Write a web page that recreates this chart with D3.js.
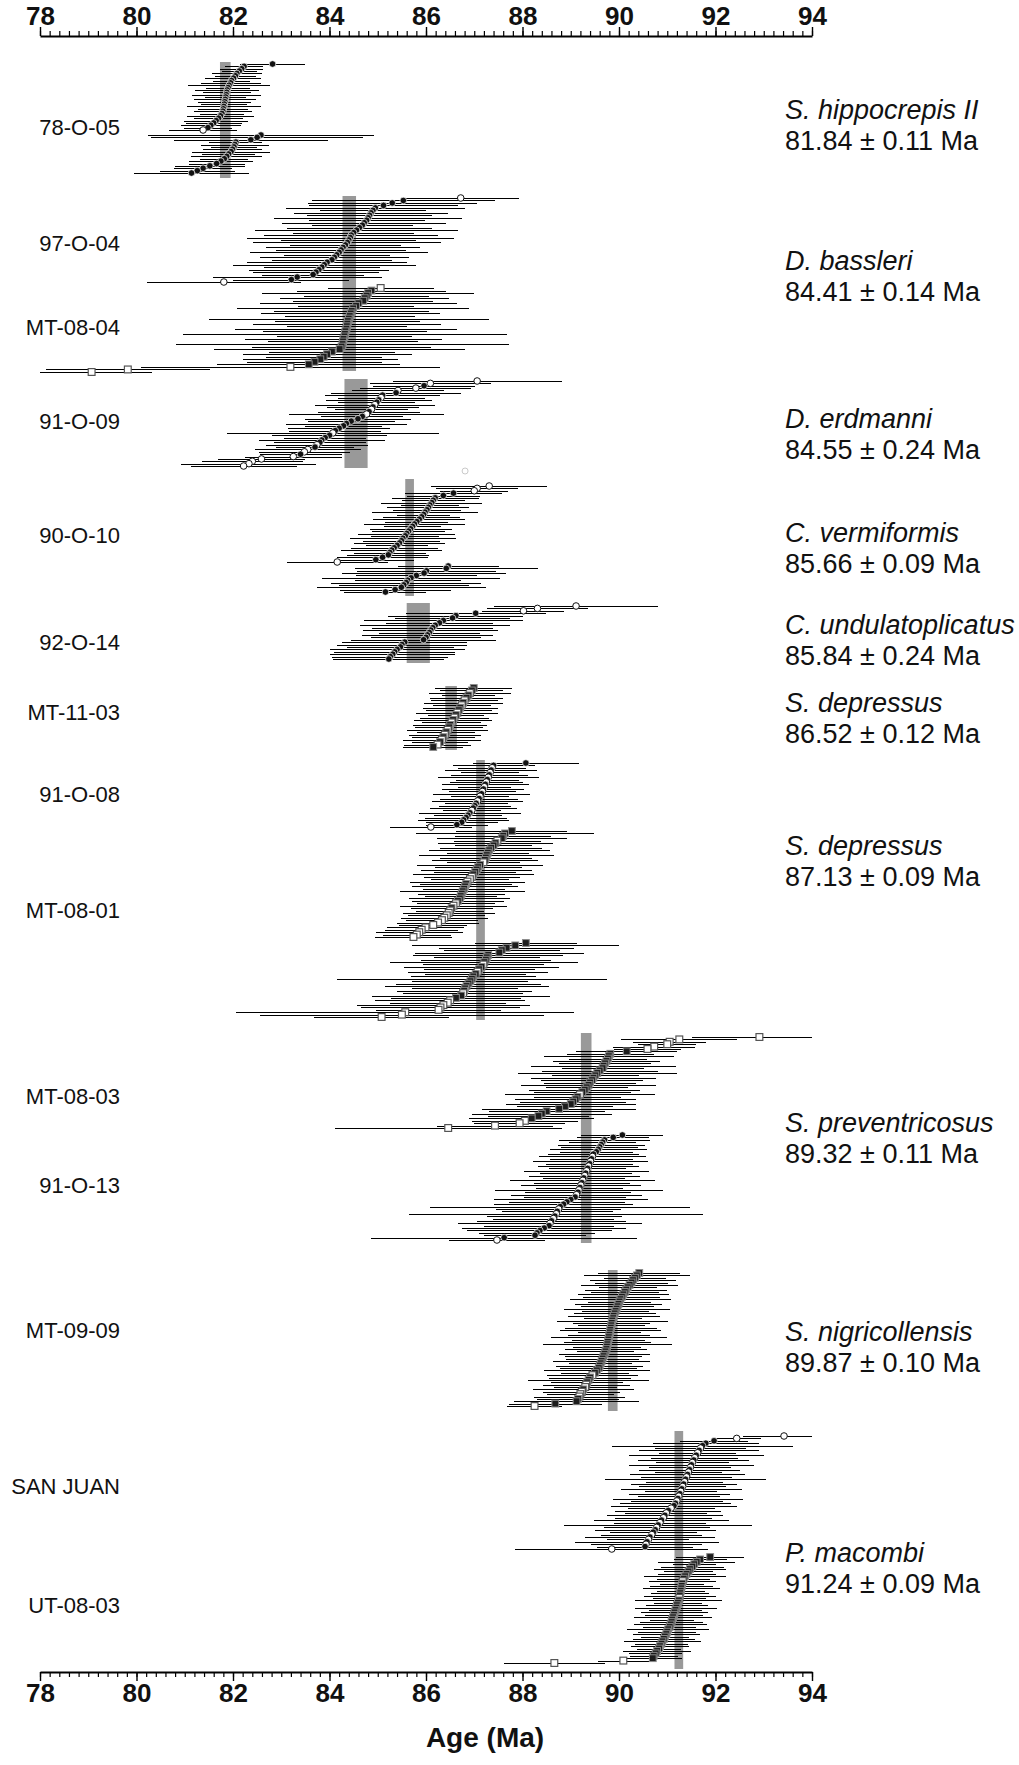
<!DOCTYPE html>
<html>
<head>
<meta charset="utf-8">
<script src="https://cdn.jsdelivr.net/npm/d3@7"></script>
<style>
  body { margin: 0; background: #fff; }
  svg { display: block; }
  text { font-family: "Liberation Sans", Arial, Helvetica, sans-serif; fill: #111; }
</style>
</head>
<body>
<svg id="chart"></svg>
<script>

// ---- data: one list per analysed run, rows top to bottom: [age Ma, 2s error Ma, symbol]
// symbol: c = filled circle, o = open circle, s = filled square, q = open square
var run_78O05a = [[82.82,.68,'c'],[82.23,.40,'c'],[82.18,.45,'c'],[82.13,.36,'c'],[82.08,.52,'c'],[82.05,.42,'c'],[82.01,.58,'c'],[81.97,.38,'c'],[81.95,.62,'c'],[81.92,.85,'c'],[81.90,.45,'c'],[81.88,.66,'c'],[81.87,.50,'c'],[81.86,.72,'c'],[81.85,.42,'c'],[81.84,.64,'c'],[81.83,.55,'c'],[81.82,.48,'c'],[81.81,.76,'c'],[81.80,.52,'c'],[81.79,.60,'c'],[81.77,.45,'c'],[81.74,.70,'c'],[81.70,.50,'c'],[81.65,.66,'c'],[81.60,.58,'c'],[81.54,.62,'c'],[81.48,.50,'c'],[81.38,.70,'o']];
var run_78O05b = [[82.58,2.35,'c'],[82.50,2.20,'c'],[82.37,1.60,'c'],[82.06,.55,'c'],[82.04,.70,'c'],[82.02,.48,'c'],[81.99,.62,'c'],[81.96,.80,'c'],[81.91,.55,'c'],[81.87,.74,'c'],[81.82,.50,'c'],[81.75,.66,'c'],[81.66,.58,'c'],[81.52,.72,'c'],[81.38,.60,'c'],[81.26,.78,'c'],[81.14,1.20,'c']];
var run_97O04 = [[86.72,1.20,'o'],[85.53,1.90,'c'],[85.30,1.75,'c'],[85.12,1.55,'c'],[84.95,1.85,'c'],[84.90,1.10,'c'],[84.86,1.60,'c'],[84.83,1.30,'c'],[84.80,1.95,'c'],[84.77,1.20,'c'],[84.72,1.70,'c'],[84.68,1.05,'c'],[84.62,1.50,'c'],[84.56,2.10,'c'],[84.50,1.25,'c'],[84.45,1.80,'c'],[84.43,2.15,'c'],[84.40,1.40,'c'],[84.37,1.95,'c'],[84.33,1.15,'c'],[84.28,1.60,'c'],[84.24,1.35,'c'],[84.20,1.85,'c'],[84.15,1.10,'c'],[84.10,1.55,'c'],[84.05,1.25,'c'],[83.95,1.65,'c'],[83.89,1.90,'c'],[83.84,1.20,'c'],[83.78,1.45,'c'],[83.72,1.30,'c'],[83.66,1.05,'c'],[83.33,1.75,'c'],[83.21,1.20,'c'],[81.81,1.60,'o']];
var run_MT0804 = [[85.06,1.10,'q'],[84.87,1.55,'s'],[84.80,2.20,'s'],[84.77,1.30,'s'],[84.73,1.75,'s'],[84.70,1.45,'s'],[84.60,2.05,'s'],[84.55,1.20,'s'],[84.49,2.40,'s'],[84.46,1.60,'s'],[84.44,1.85,'s'],[84.42,1.35,'s'],[84.40,2.90,'s'],[84.38,1.50,'s'],[84.37,1.95,'s'],[84.36,1.25,'s'],[84.35,2.30,'s'],[84.33,1.70,'s'],[84.32,3.35,'s'],[84.31,1.40,'s'],[84.29,2.05,'s'],[84.28,1.55,'s'],[84.27,3.45,'s'],[84.25,1.85,'s'],[84.21,2.60,'s'],[84.05,1.30,'s'],[83.95,1.75,'s'],[83.88,1.20,'s'],[83.81,1.60,'s'],[83.69,1.40,'s'],[83.57,1.90,'s'],[83.19,3.10,'q'],[79.82,1.70,'q'],[79.07,1.25,'q']];
var run_91O09 = [[87.06,1.75,'o'],[86.09,1.25,'o'],[85.96,1.05,'c'],[85.79,1.15,'o'],[85.42,.95,'o'],[85.38,1.35,'c'],[85.10,1.20,'c'],[85.07,.90,'o'],[85.02,1.10,'c'],[84.98,.80,'c'],[84.94,1.25,'o'],[84.90,.95,'c'],[84.87,.75,'o'],[84.82,1.05,'c'],[84.77,1.60,'o'],[84.68,.85,'c'],[84.59,1.10,'c'],[84.45,.90,'c'],[84.35,1.25,'c'],[84.29,.80,'c'],[84.20,1.05,'c'],[84.12,.95,'c'],[84.07,2.20,'o'],[84.00,1.20,'c'],[83.91,.85,'c'],[83.84,1.30,'c'],[83.80,.95,'c'],[83.74,1.05,'o'],[83.70,.80,'c'],[83.55,1.10,'o'],[83.48,.95,'o'],[83.40,.85,'c'],[83.25,1.00,'o'],[82.59,.90,'o'],[82.40,1.05,'o'],[82.33,1.40,'o'],[82.22,1.10,'o']];
var run_90O10a = [[87.31,1.20,'o'],[87.06,.85,'o'],[87.00,.70,'o'],[86.57,1.00,'c'],[86.36,.75,'c'],[86.19,.90,'c'],[86.15,.65,'c'],[86.12,1.05,'c'],[86.08,.60,'c'],[86.05,.85,'c'],[86.02,.70,'c'],[85.98,1.10,'c'],[85.95,.55,'c'],[85.91,.80,'c'],[85.86,.95,'c'],[85.81,.65,'c'],[85.76,1.05,'c'],[85.72,.60,'c'],[85.68,.85,'c'],[85.64,.75,'c'],[85.60,1.00,'c'],[85.57,.70,'c'],[85.52,1.10,'c'],[85.49,.80,'c'],[85.45,.95,'c'],[85.40,.65,'c'],[85.34,.90,'c'],[85.29,1.05,'c'],[85.25,.75,'c'],[85.22,.85,'c'],[85.10,.95,'c'],[84.96,.80,'c'],[84.16,1.05,'o']];
var run_90O10b = [[86.46,1.05,'c'],[86.42,1.90,'c'],[86.01,1.45,'c'],[85.96,1.70,'c'],[85.80,1.25,'c'],[85.69,1.85,'c'],[85.62,1.10,'c'],[85.59,1.55,'c'],[85.54,1.35,'c'],[85.49,1.75,'c'],[85.36,1.15,'c'],[85.16,.85,'c']];
var run_90O10rejected = [[86.81,0,'x']];
var run_92O14 = [[89.11,1.70,'o'],[88.31,1.05,'o'],[88.02,.85,'o'],[87.03,1.45,'c'],[86.62,1.40,'c'],[86.55,1.20,'c'],[86.36,1.65,'c'],[86.28,1.10,'c'],[86.19,1.55,'c'],[86.14,1.25,'c'],[86.10,1.40,'c'],[86.07,1.05,'c'],[86.03,1.35,'c'],[86.00,1.15,'c'],[85.95,1.50,'c'],[85.56,1.30,'c'],[85.50,1.35,'c'],[85.47,1.10,'c'],[85.40,1.40,'c'],[85.35,1.25,'c'],[85.31,1.30,'c'],[85.26,1.20,'c'],[85.23,1.15,'c']];
var run_MT1103 = [[86.99,.80,'s'],[86.95,.65,'s'],[86.91,.85,'q'],[86.88,.55,'s'],[86.84,.75,'s'],[86.80,.70,'q'],[86.77,.82,'s'],[86.74,.60,'q'],[86.71,.78,'s'],[86.68,.68,'s'],[86.65,.85,'q'],[86.62,.58,'s'],[86.59,.72,'q'],[86.56,.80,'s'],[86.53,.62,'q'],[86.50,.76,'s'],[86.48,.70,'s'],[86.45,.84,'q'],[86.42,.60,'s'],[86.39,.74,'q'],[86.36,.66,'s'],[86.33,.80,'q'],[86.29,.58,'s'],[86.24,.70,'q'],[86.15,.62,'s']];
var run_91O08 = [[88.07,1.10,'c'],[87.40,.85,'c'],[87.37,.70,'o'],[87.35,.95,'c'],[87.33,.60,'o'],[87.31,.80,'c'],[87.29,1.05,'o'],[87.27,.65,'c'],[87.25,.75,'o'],[87.23,.90,'c'],[87.21,.55,'o'],[87.19,.85,'c'],[87.17,.70,'o'],[87.15,1.00,'c'],[87.12,.60,'o'],[87.10,.80,'c'],[87.07,.95,'o'],[87.04,.65,'c'],[87.01,.75,'c'],[86.98,.90,'c'],[86.95,.60,'o'],[86.91,1.05,'c'],[86.87,.70,'c'],[86.83,.85,'c'],[86.78,.95,'c'],[86.74,.75,'c'],[86.64,.65,'c'],[86.10,.85,'o']];
var run_MT0801a = [[87.78,1.15,'s'],[87.64,1.85,'s'],[87.60,1.00,'s'],[87.57,1.35,'s'],[87.48,.90,'q'],[87.44,1.20,'s'],[87.40,.80,'s'],[87.35,1.05,'s'],[87.31,1.25,'s'],[87.28,.85,'s'],[87.26,1.40,'s'],[87.24,.95,'s'],[87.22,1.10,'s'],[87.19,.75,'q'],[87.12,1.30,'s'],[87.08,.90,'s'],[87.05,1.15,'s'],[87.02,.85,'s'],[86.98,1.25,'s'],[86.95,1.00,'q'],[86.91,.80,'q'],[86.86,1.20,'q'],[86.83,.95,'s'],[86.81,1.10,'s'],[86.79,.85,'s'],[86.76,1.30,'s'],[86.74,.90,'s'],[86.72,.75,'s'],[86.70,1.05,'s'],[86.66,.95,'s'],[86.62,.80,'q'],[86.57,1.10,'q'],[86.53,.85,'s'],[86.50,.70,'q'],[86.47,.95,'q'],[86.43,.80,'q'],[86.38,.90,'q'],[86.33,.75,'q'],[86.25,.85,'q'],[86.15,.70,'q'],[85.99,.80,'q'],[85.91,.75,'q'],[85.86,.90,'q'],[85.81,.70,'q'],[85.74,.80,'q']];
var run_MT0801b = [[88.07,1.05,'s'],[87.85,2.15,'s'],[87.67,1.40,'s'],[87.57,1.20,'s'],[87.52,1.75,'s'],[87.29,1.55,'s'],[87.26,1.10,'s'],[87.24,1.35,'s'],[87.21,1.95,'s'],[87.19,1.25,'q'],[87.15,1.60,'s'],[87.10,1.15,'s'],[87.07,1.45,'q'],[87.03,1.05,'s'],[86.98,1.30,'s'],[86.95,2.80,'s'],[86.92,1.20,'s'],[86.88,1.50,'s'],[86.84,1.70,'s'],[86.81,1.10,'s'],[86.79,1.40,'s'],[86.77,1.25,'q'],[86.73,1.85,'s'],[86.62,1.35,'s'],[86.50,1.55,'q'],[86.45,1.20,'q'],[86.36,1.80,'q'],[86.30,1.65,'q'],[86.26,1.30,'q'],[85.57,3.50,'q'],[85.50,2.95,'q'],[85.08,1.40,'q']];
var run_MT0803 = [[92.91,1.40,'q'],[91.25,1.20,'q'],[91.05,.75,'q'],[91.00,.60,'q'],[90.73,.85,'q'],[90.59,.70,'q'],[90.16,1.05,'s'],[89.82,.90,'s'],[89.79,1.35,'s'],[89.77,.80,'s'],[89.74,1.10,'s'],[89.71,.95,'s'],[89.68,1.50,'s'],[89.66,.85,'s'],[89.60,1.20,'s'],[89.55,1.65,'s'],[89.51,.90,'s'],[89.47,1.30,'s'],[89.44,1.05,'s'],[89.40,.95,'s'],[89.37,1.40,'s'],[89.33,.85,'s'],[89.29,1.15,'s'],[89.24,1.00,'s'],[89.19,1.55,'q'],[89.14,.90,'s'],[89.10,1.25,'s'],[89.05,1.10,'s'],[89.00,1.35,'s'],[88.88,1.00,'s'],[88.76,1.60,'s'],[88.50,1.20,'s'],[88.40,1.45,'s'],[88.33,1.05,'s'],[88.19,1.30,'s'],[88.05,1.10,'q'],[87.94,.95,'q'],[87.43,1.20,'q'],[86.46,2.35,'q']];
var run_91O13 = [[90.07,.85,'c'],[89.88,.75,'c'],[89.70,.95,'c'],[89.66,.70,'c'],[89.63,.90,'c'],[89.60,.80,'c'],[89.57,1.00,'c'],[89.53,.75,'c'],[89.47,.95,'c'],[89.45,1.10,'o'],[89.43,.85,'c'],[89.41,1.20,'o'],[89.39,.90,'c'],[89.37,1.05,'o'],[89.35,.80,'c'],[89.33,1.30,'o'],[89.31,.95,'c'],[89.29,1.15,'o'],[89.27,.85,'c'],[89.25,1.50,'o'],[89.23,1.00,'c'],[89.21,1.25,'o'],[89.19,.90,'c'],[89.17,1.75,'o'],[89.15,1.10,'c'],[89.12,1.35,'o'],[89.09,1.05,'c'],[89.00,1.60,'c'],[88.92,1.20,'c'],[88.85,1.45,'c'],[88.78,2.70,'c'],[88.75,1.30,'o'],[88.72,1.15,'c'],[88.70,3.05,'o'],[88.67,1.40,'c'],[88.64,1.25,'o'],[88.60,1.55,'c'],[88.57,1.90,'o'],[88.55,1.35,'c'],[88.45,1.70,'c'],[88.36,1.50,'c'],[88.30,1.20,'c'],[88.26,1.05,'c'],[87.62,2.75,'c'],[87.47,1.00,'o']];
var run_MT0909 = [[90.42,.85,'s'],[90.37,1.10,'s'],[90.33,.65,'s'],[90.29,.90,'s'],[90.26,.75,'s'],[90.22,1.00,'s'],[90.18,.60,'s'],[90.15,.85,'s'],[90.12,.70,'s'],[90.09,.95,'s'],[90.06,.80,'s'],[90.03,1.05,'s'],[90.01,.65,'s'],[89.99,.90,'s'],[89.97,.75,'s'],[89.95,1.10,'s'],[89.93,.70,'s'],[89.91,.85,'s'],[89.89,.95,'s'],[89.88,.60,'s'],[89.86,1.15,'s'],[89.85,.80,'s'],[89.84,.70,'s'],[89.83,.95,'s'],[89.82,1.05,'s'],[89.81,.65,'s'],[89.80,.85,'s'],[89.79,1.20,'s'],[89.78,.75,'s'],[89.77,.90,'s'],[89.76,1.34,'s'],[89.75,.70,'s'],[89.74,.85,'s'],[89.72,.60,'s'],[89.70,.95,'s'],[89.68,.80,'s'],[89.66,.75,'s'],[89.64,1.00,'s'],[89.62,.65,'s'],[89.60,.90,'s'],[89.58,.80,'s'],[89.54,1.10,'s'],[89.50,.70,'s'],[89.45,.95,'q'],[89.40,.85,'s'],[89.37,1.25,'s'],[89.34,.75,'s'],[89.32,.90,'q'],[89.30,.65,'q'],[89.26,1.05,'s'],[89.23,.80,'q'],[89.20,.70,'q'],[89.18,.95,'q'],[89.15,.85,'s'],[89.12,1.29,'s'],[88.68,.97,'s'],[88.25,.57,'q']];
var run_SanJuan = [[93.42,.84,'o'],[92.44,.50,'o'],[91.97,.70,'c'],[91.80,1.10,'c'],[91.73,1.88,'c'],[91.69,.95,'o'],[91.66,1.25,'c'],[91.63,.80,'o'],[91.60,1.40,'c'],[91.57,.90,'o'],[91.55,1.15,'c'],[91.52,.75,'o'],[91.50,1.30,'c'],[91.48,.85,'o'],[91.46,1.05,'c'],[91.44,.70,'o'],[91.42,1.20,'c'],[91.40,.95,'o'],[91.38,1.67,'c'],[91.36,.80,'o'],[91.34,1.10,'c'],[91.32,.90,'o'],[91.30,1.25,'c'],[91.28,.75,'o'],[91.26,1.05,'c'],[91.24,.85,'o'],[91.22,1.35,'c'],[91.20,.95,'o'],[91.17,1.15,'c'],[91.14,1.30,'c'],[91.08,.90,'o'],[91.02,1.10,'c'],[90.98,.85,'o'],[90.95,1.20,'c'],[90.92,1.00,'o'],[90.88,1.40,'c'],[90.85,.95,'o'],[90.81,1.95,'c'],[90.78,1.10,'o'],[90.75,1.25,'c'],[90.71,.90,'c'],[90.68,1.05,'o'],[90.64,1.35,'c'],[90.61,.85,'o'],[90.58,1.50,'c'],[90.56,1.15,'o'],[90.54,1.00,'c'],[89.85,2.00,'o']];
var run_UT0803 = [[91.89,.70,'s'],[91.68,.55,'s'],[91.61,.80,'s'],[91.56,.45,'s'],[91.52,.65,'s'],[91.47,.75,'s'],[91.44,.50,'s'],[91.40,.60,'s'],[91.37,.85,'s'],[91.34,.55,'s'],[91.32,.70,'q'],[91.31,.45,'s'],[91.30,.65,'s'],[91.29,.80,'s'],[91.28,.50,'s'],[91.27,.60,'s'],[91.26,.75,'s'],[91.25,.55,'q'],[91.24,.90,'s'],[91.22,.50,'s'],[91.20,.65,'s'],[91.19,.85,'s'],[91.17,.55,'s'],[91.15,.70,'s'],[91.14,.60,'s'],[91.12,.80,'s'],[91.10,.45,'s'],[91.09,.65,'s'],[91.07,.75,'s'],[91.05,.55,'s'],[91.02,.85,'s'],[91.00,.60,'s'],[90.98,.70,'s'],[90.95,.50,'s'],[90.93,.65,'s'],[90.90,.80,'s'],[90.88,.55,'s'],[90.85,.60,'s'],[90.83,.45,'s'],[90.79,.70,'s'],[90.76,.55,'s'],[90.72,.50,'s'],[90.70,.60,'s'],[90.09,.53,'q'],[88.66,1.05,'q']];

var sampleLabels = ["78-O-05", "97-O-04", "MT-08-04", "91-O-09", "90-O-10", "92-O-14", "MT-11-03",
                    "91-O-08", "MT-08-01", "MT-08-03", "91-O-13", "MT-09-09", "SAN JUAN", "UT-08-03"];
var speciesNames = ["S. hippocrepis II", "D. bassleri", "D. erdmanni", "C. vermiformis", "C. undulatoplicatus",
                    "S. depressus", "S. depressus", "S. preventricosus", "S. nigricollensis", "P. macombi"];
var meanAges = [81.84, 84.41, 84.55, 85.66, 85.84, 86.52, 87.13, 89.32, 89.87, 91.24];
var meanErrs = [0.11, 0.14, 0.24, 0.09, 0.24, 0.12, 0.09, 0.11, 0.10, 0.09];
var majorTicks = [78, 80, 82, 84, 86, 88, 90, 92, 94];

// ---- layout (pixels)
var width = 1019, height = 1765;
var topAxisY = 36, bottomAxisY = 1672;

var runLayout = [
  { rows: run_78O05a, top: 64, bottom: 130 },
  { rows: run_78O05b, top: 135, bottom: 173 },
  { rows: run_97O04, top: 198, bottom: 282 },
  { rows: run_MT0804, top: 288, bottom: 372 },
  { rows: run_91O09, top: 381, bottom: 466 },
  { rows: run_90O10rejected, top: 471, bottom: 471 },
  { rows: run_90O10a, top: 486, bottom: 562 },
  { rows: run_90O10b, top: 566, bottom: 592 },
  { rows: run_92O14, top: 606, bottom: 659 },
  { rows: run_MT1103, top: 688, bottom: 747 },
  { rows: run_91O08, top: 763, bottom: 827 },
  { rows: run_MT0801a, top: 831, bottom: 937 },
  { rows: run_MT0801b, top: 943, bottom: 1017 },
  { rows: run_MT0803, top: 1037, bottom: 1128 },
  { rows: run_91O13, top: 1135, bottom: 1240 },
  { rows: run_MT0909, top: 1273, bottom: 1406 },
  { rows: run_SanJuan, top: 1436, bottom: 1549 },
  { rows: run_UT0803, top: 1557, bottom: 1663 }
];

// gray bar extents and species label line centres
var groupLayout = [
  { top: 62, bottom: 178, labelY: 110 },
  { top: 196, bottom: 371, labelY: 261 },
  { top: 379, bottom: 468, labelY: 419 },
  { top: 479, bottom: 596, labelY: 533 },
  { top: 603, bottom: 663, labelY: 625 },
  { top: 686, bottom: 750, labelY: 703 },
  { top: 760, bottom: 1020, labelY: 846 },
  { top: 1033, bottom: 1243, labelY: 1123 },
  { top: 1270, bottom: 1411, labelY: 1332 },
  { top: 1431, bottom: 1669, labelY: 1553 }
];
var sampleLabelY = [127, 243, 327, 421, 535, 642, 712, 794, 910, 1096, 1185, 1330, 1486, 1605];

var svg = d3.select("#chart").attr("width", width).attr("height", height);

var x = d3.scaleLinear().domain([78, 94]).range([40, 812]);

svg.append("clipPath").attr("id", "plotClip")
  .append("rect")
  .attr("x", x(78)).attr("y", 0)
  .attr("width", x(94) - x(78)).attr("height", height);

var plot = svg.append("g").attr("clip-path", "url(#plotClip)");

// weighted mean bands
plot.append("g").selectAll("rect")
  .data(groupLayout)
  .join("rect")
  .attr("x", function (d, i) { return x(meanAges[i] - meanErrs[i]); })
  .attr("width", function (d, i) { return x(meanAges[i] + meanErrs[i]) - x(meanAges[i] - meanErrs[i]); })
  .attr("y", function (d) { return d.top; })
  .attr("height", function (d) { return d.bottom - d.top; })
  .attr("fill", "#999");

var lineLayer = plot.append("g").attr("shape-rendering", "crispEdges");
var markLayer = plot.append("g");

runLayout.forEach(function (run) {
  var y = d3.scaleLinear()
    .domain([0, Math.max(1, run.rows.length - 1)])
    .range([run.top, run.bottom]);

  lineLayer.selectAll(null)
    .data(run.rows.filter(function (d) { return d[1] > 0; }))
    .enter().append("line")
    .attr("x1", function (d) { return x(d[0] - d[1]); })
    .attr("x2", function (d) { return x(d[0] + d[1]); })
    .attr("y1", function (d) { return Math.round(y(run.rows.indexOf(d))) + 0.5; })
    .attr("y2", function (d) { return Math.round(y(run.rows.indexOf(d))) + 0.5; })
    .attr("stroke", "#000")
    .attr("stroke-width", 1);

  run.rows.forEach(function (d, i) {
    var cx = x(d[0]), cy = y(i);
    if (d[2] === 'c') {
      markLayer.append("circle").attr("cx", cx).attr("cy", cy).attr("r", 3.3)
        .attr("fill", "#111").attr("stroke", "#fff").attr("stroke-width", 0.7);
    } else if (d[2] === 'o') {
      markLayer.append("circle").attr("cx", cx).attr("cy", cy).attr("r", 3.3)
        .attr("fill", "#fff").attr("stroke", "#111").attr("stroke-width", 1);
    } else if (d[2] === 's') {
      markLayer.append("rect").attr("x", cx - 3.4).attr("y", cy - 3.4).attr("width", 6.8).attr("height", 6.8)
        .attr("fill", "#1c1c1c").attr("stroke", "#8a8a8a").attr("stroke-width", 1);
    } else if (d[2] === 'q') {
      markLayer.append("rect").attr("x", cx - 3.4).attr("y", cy - 3.4).attr("width", 6.8).attr("height", 6.8)
        .attr("fill", "#fff").attr("stroke", "#555").attr("stroke-width", 1.2);
    } else {
      markLayer.append("circle").attr("cx", cx).attr("cy", cy).attr("r", 3)
        .attr("fill", "none").attr("stroke", "#bbb").attr("stroke-width", 0.8);
    }
  });
});

// axes
var minorTicks = d3.range(780, 941, 2).map(function (v) { return v / 10; });

function drawAxis(gen, yPos, pad) {
  var gMinor = svg.append("g").attr("transform", "translate(0," + yPos + ")")
    .call(gen(x).tickValues(minorTicks).tickSize(5).tickSizeOuter(0).tickFormat(""));
  gMinor.selectAll("line").attr("stroke", "#000").attr("stroke-width", 1.2);
  gMinor.select(".domain").attr("stroke", "#000").attr("stroke-width", 1.8);

  var gMajor = svg.append("g").attr("transform", "translate(0," + yPos + ")")
    .call(gen(x).tickValues(majorTicks).tickSize(9).tickSizeOuter(0).tickPadding(pad));
  gMajor.select(".domain").remove();
  gMajor.selectAll("line").attr("stroke", "#000").attr("stroke-width", 1.4);
  gMajor.selectAll("text")
    .attr("font-family", "'Liberation Sans', Arial, sans-serif")
    .attr("font-size", 26).attr("font-weight", "bold").attr("fill", "#111");
}
drawAxis(d3.axisTop, topAxisY, 2);
drawAxis(d3.axisBottom, bottomAxisY, 3);

svg.append("text")
  .attr("x", 485).attr("y", 1747)
  .attr("text-anchor", "middle")
  .attr("font-size", 28).attr("font-weight", "bold")
  .text("Age (Ma)");

// sample names
svg.append("g").selectAll("text")
  .data(sampleLabels)
  .join("text")
  .attr("x", 120)
  .attr("y", function (d, i) { return sampleLabelY[i]; })
  .attr("dy", "0.35em")
  .attr("text-anchor", "end")
  .attr("font-size", 22)
  .text(function (d) { return d; });

// species and mean age
var species = svg.append("g");
groupLayout.forEach(function (g, i) {
  species.append("text")
    .attr("x", 785).attr("y", g.labelY).attr("dy", "0.35em")
    .attr("font-size", 27).attr("font-style", "italic")
    .text(speciesNames[i]);
  species.append("text")
    .attr("x", 785).attr("y", g.labelY + 31).attr("dy", "0.35em")
    .attr("font-size", 27)
    .text(meanAges[i].toFixed(2) + " \u00b1 " + meanErrs[i].toFixed(2) + " Ma");
});

</script>
</body>
</html>
